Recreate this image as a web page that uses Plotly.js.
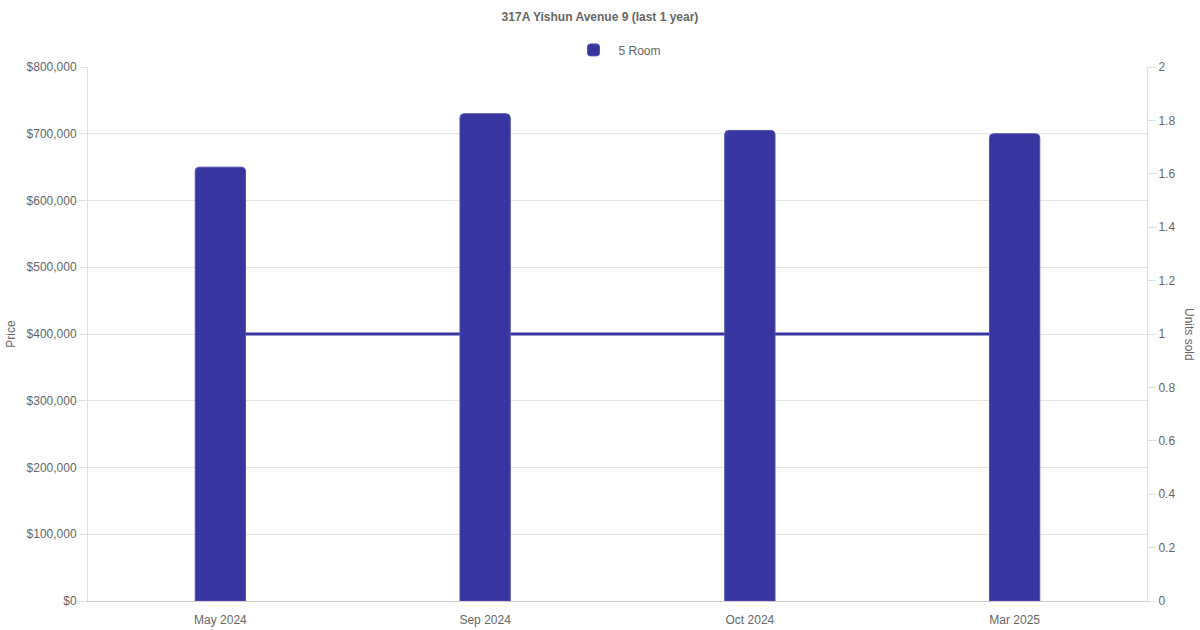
<!DOCTYPE html>
<html>
<head>
<meta charset="utf-8">
<script src="https://cdn.plot.ly/plotly-3.0.1.min.js"></script>
<style>html,body{margin:0;padding:0;background:#fff;}#chart{width:1200px;height:630px;}</style>
</head>
<body>
<div id="chart"></div>
<script>
const months = ["May 2024", "Sep 2024", "Oct 2024", "Mar 2025"];
const prices = [650000, 730000, 705000, 700000];
const unitsSold = [1, 1, 1, 1];
const seriesName = "5 Room";
const priceTicks = [0, 100000, 200000, 300000, 400000, 500000, 600000, 700000, 800000];
const unitTicks = [0, 0.2, 0.4, 0.6, 0.8, 1, 1.2, 1.4, 1.6, 1.8, 2];

const col = "#3835a0";
const fontFam = "Liberation Sans, Arial, sans-serif";

const barTrace = {
  type: "bar", x: months, y: prices, name: seriesName, yaxis: "y2",
  width: 0.19,
  marker: {color: col, line: {color: "#5653b4", width: 1}, cornerradius: 4},
  hoverinfo: "x+y"
};
const lineTrace = {
  type: "scatter", mode: "lines", x: months, y: unitsSold, yaxis: "y",
  line: {color: col, width: 3}, showlegend: false, name: "Units sold"
};

const layout = {
  width: 1200, height: 630,
  margin: {l: 88, r: 53, t: 67, b: 29},
  paper_bgcolor: "#fff", plot_bgcolor: "#fff",
  font: {family: fontFam, size: 12, color: "#666"},
  title: {text: "<b>317A Yishun Avenue 9 (last 1 year)</b>", x: 0.5, xanchor: "center", y: 0.980, yanchor: "top", font: {size: 12, color: "#666", family: fontFam}},
  showlegend: true,
  legend: {orientation: "h", x: 0.5, xanchor: "center", y: 1.032, yanchor: "middle", font: {size: 12, color: "#666"}, itemwidth: 40},
  bargap: 0.81,
  xaxis: {
    type: "category", showgrid: false, showline: true, linecolor: "#cccccc", linewidth: 1,
    ticks: "outside", ticklen: 8, tickcolor: "rgba(0,0,0,0)", tickfont: {size: 12, color: "#666"}, zeroline: false
  },
  yaxis: {
    side: "right", range: [0, 2], tickvals: unitTicks, ticktext: unitTicks.map(String),
    showgrid: false, zeroline: false, showline: true, linecolor: "#e0e0e0",
    ticks: "outside", ticklen: 8, tickcolor: "#e0e0e0", tickfont: {size: 12, color: "#666"}
  },
  yaxis2: {
    overlaying: "y", side: "left", range: [0, 800000], tickvals: priceTicks,
    tickformat: "$,.0f", showgrid: true, gridcolor: "#e5e5e5", zeroline: false,
    showline: true, linecolor: "#e0e0e0", ticks: "outside", ticklen: 8, tickcolor: "#e0e0e0",
    tickfont: {size: 12, color: "#666"},
    title: {text: "Price", font: {size: 12, color: "#666"}, standoff: 8}
  },
  annotations: [{
    text: "Units sold", xref: "paper", yref: "paper", x: 1.0, xshift: 51, y: 0.5,
    showarrow: false, textangle: 90, font: {size: 12, color: "#666"}
  }]
};

Plotly.newPlot("chart", [lineTrace, barTrace], layout, {displayModeBar: false, staticPlot: true});
</script>
</body>
</html>
